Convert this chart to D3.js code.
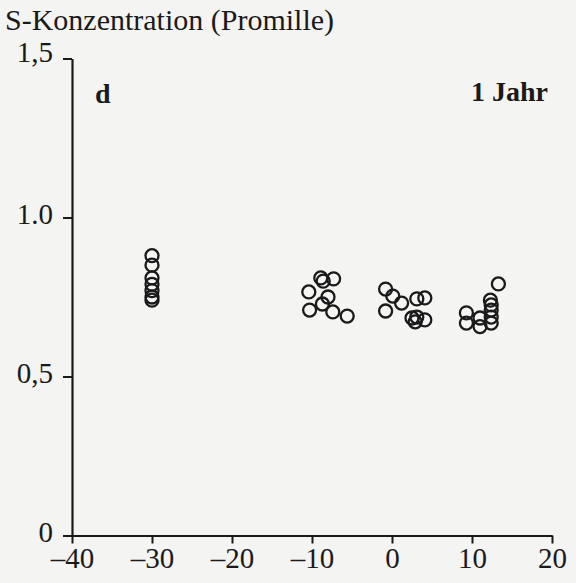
<!DOCTYPE html>
<html>
<head>
<meta charset="utf-8">
<script src="https://cdn.jsdelivr.net/npm/d3@7"></script>
<style>
  html, body { margin: 0; padding: 0; background: #f4f4f2; }
  svg { display: block; }
  text { font-family: "Liberation Serif", "Times New Roman", serif; fill: #1a1a1a; }
</style>
</head>
<body>
<svg id="chart" width="576" height="583"></svg>
<script>
// ---- data ----
const xTicks = [-40, -30, -20, -10, 0, 10, 20];
const xTickLabels = ["\u201340", "\u201330", "\u201320", "\u201310", "0", "10", "20"];
const yTicks = [0, 0.5, 1.0, 1.5];
const yTickLabels = ["0", "0,5", "1.0", "1,5"];

const xValues = [
  -30, -30, -30, -30, -30, -30, -30,
  -8.9, -8.6, -7.3, -10.4, -8.0, -8.7, -10.3, -7.4, -5.6,
  -0.8, 0.1, 1.2, -0.8, 3.1, 4.1, 2.5, 3.1, 4.1, 2.9,
  13.3, 12.3, 12.4, 12.4, 9.3, 11.0, 12.4, 9.3, 11.0, 12.4
];
const yValues = [
  0.88, 0.85, 0.81, 0.79, 0.77, 0.75, 0.74,
  0.81, 0.80, 0.807, 0.766, 0.75, 0.728, 0.709, 0.703, 0.69,
  0.775, 0.753, 0.731, 0.706, 0.744, 0.747, 0.684, 0.687, 0.678, 0.672,
  0.791, 0.74, 0.725, 0.709, 0.70, 0.684, 0.687, 0.668, 0.657, 0.668
];
const yTitle = "S-Konzentration (Promille)";
const panelLabel = "d";
const periodLabel = "1 Jahr";

// ---- layout ----
const svg = d3.select("#chart");
const ink = "#1a1a1a";
const serif = "'Liberation Serif', 'Times New Roman', serif";

const x = d3.scaleLinear().domain([-40, 20]).range([72, 552]);
const y = d3.scaleLinear().domain([0, 1.5]).range([535.5, 58.5]);

// y axis
const yAxis = d3.axisLeft(y)
  .tickValues(yTicks)
  .tickFormat((d, i) => yTickLabels[i])
  .tickSize(9)
  .tickSizeOuter(0)
  .tickPadding(10);
const gy = svg.append("g").attr("transform", `translate(${x(-40)},0)`).call(yAxis);
gy.attr("font-family", serif);
gy.select(".domain").attr("stroke", ink).attr("stroke-width", 2.2);
gy.selectAll(".tick line").attr("stroke", ink).attr("stroke-width", 2);
gy.selectAll(".tick text")
  .attr("fill", ink)
  .style("font-size", "29px")
  .style("font-family", serif)
  .attr("dy", "0.22em");
gy.selectAll(".tick").filter(d => d === 1.5).select("text").attr("dy", "0.12em");

// x axis
const xAxis = d3.axisBottom(x)
  .tickValues(xTicks)
  .tickFormat((d, i) => xTickLabels[i])
  .tickSize(8)
  .tickSizeOuter(0)
  .tickPadding(3);
const gx = svg.append("g").attr("transform", `translate(0,${y(0)})`).call(xAxis);
gx.attr("font-family", serif);
gx.select(".domain").attr("stroke", ink).attr("stroke-width", 2.2);
gx.selectAll(".tick line").attr("stroke", ink).attr("stroke-width", 2);
gx.selectAll(".tick text")
  .attr("fill", ink)
  .style("font-size", "29px")
  .style("font-family", serif)
  .attr("dy", "0.74em");

// points
svg.append("g").selectAll("circle")
  .data(xValues.map((v, i) => ({ x: v, y: yValues[i] })))
  .join("circle")
  .attr("cx", d => x(d.x))
  .attr("cy", d => y(d.y))
  .attr("r", 6.5)
  .attr("fill", "none")
  .attr("stroke", ink)
  .attr("stroke-width", 2.3);

// texts
svg.append("text")
  .attr("x", 5).attr("y", 30)
  .style("font-size", "30px")
  .style("font-family", serif)
  .text(yTitle);

svg.append("text")
  .attr("x", 95).attr("y", 103)
  .style("font-size", "28px").style("font-weight", "bold")
  .style("font-family", serif)
  .text(panelLabel);

svg.append("text")
  .attr("x", 548).attr("y", 101)
  .attr("text-anchor", "end")
  .style("font-size", "28px").style("font-weight", "bold")
  .style("font-family", serif)
  .text(periodLabel);
</script>
</body>
</html>
